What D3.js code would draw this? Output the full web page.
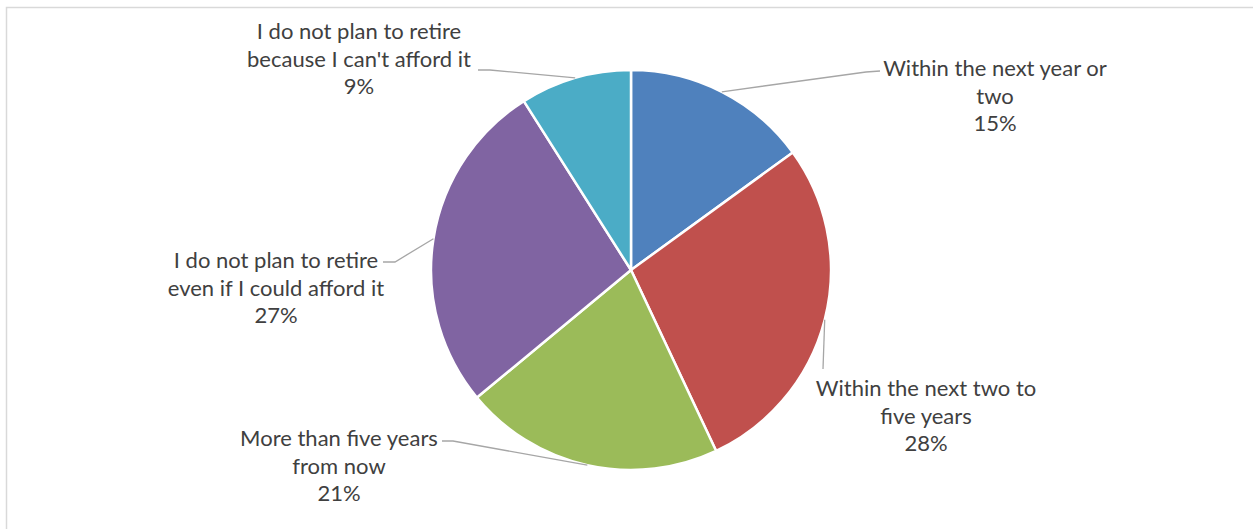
<!DOCTYPE html>
<html>
<head>
<meta charset="utf-8">
<script src="https://cdn.jsdelivr.net/npm/d3@7"></script>
<style>
  html, body { margin: 0; padding: 0; background: #fff; }
  svg { display: block; }
</style>
</head>
<body>
<svg id="chart" width="1253" height="529"></svg>
<script>
// Retirement plans survey: share of respondents per answer
const categories = [
  ["Within the next year or", "two"],
  ["Within the next two to", "five years"],
  ["More than five years", "from now"],
  ["I do not plan to retire", "even if I could afford it"],
  ["I do not plan to retire", "because I can't afford it"]
];
const values = [15, 28, 21, 27, 9];
const valueLabels = ["15%", "28%", "21%", "27%", "9%"];
const colors = ["#4F81BD", "#C0504D", "#9BBB59", "#8064A2", "#4BACC6"];

// Label block centres (x, y of first line) and where each leader line meets the text
const labelLayout = [
  { x: 995, y: 67, elbow: [[880, 71], [866, 72]] },
  { x: 926, y: 387, elbow: [[823, 369]] },
  { x: 339, y: 437, elbow: [[442, 441], [453, 441]] },
  { x: 276, y: 259, elbow: [[383, 262], [395, 262]] },
  { x: 359, y: 30, elbow: [[478, 70], [490, 70]] }
];

const svg = d3.select("#chart");
const W = 1253, H = 529;

// chart area frame
svg.append("rect")
  .attr("x", 6.5).attr("y", 7.5)
  .attr("width", W + 10).attr("height", H + 10)
  .attr("fill", "#fff")
  .attr("stroke", "#d9d9d9")
  .attr("stroke-width", 1.5);

const cx = 631, cy = 270, r = 200;
const g = svg.append("g").attr("transform", `translate(${cx},${cy})`);

const pie = d3.pie().sort(null).value(d => d)(values);
const arc = d3.arc().innerRadius(0).outerRadius(r);

g.selectAll("path.slice")
  .data(pie)
  .join("path")
  .attr("class", "slice")
  .attr("d", arc)
  .attr("fill", (d, i) => colors[i])
  .attr("stroke", "#fff")
  .attr("stroke-width", 2.5)
  .attr("stroke-linejoin", "round");

// leader lines from the slice edge at its mid-angle to the label
const leader = d3.line();
pie.forEach((d, i) => {
  const a = (d.startAngle + d.endAngle) / 2;
  const edge = [cx + r * Math.sin(a), cy - r * Math.cos(a)];
  const pts = labelLayout[i].elbow.slice().reverse();
  pts.unshift(edge);
  svg.append("path")
    .attr("d", leader(pts))
    .attr("fill", "none")
    .attr("stroke", "#a6a6a6")
    .attr("stroke-width", 1.3);
});

// fit label font so a reference line spans its measured width
const fontFamily = "Lato, 'Open Sans', sans-serif";
const probe = svg.append("text").attr("font-family", fontFamily).attr("font-size", 100)
  .text("I do not plan to retire");
const probeW = probe.node().getComputedTextLength();
probe.remove();
const fontSize = Math.min(22, 100 * 208 / probeW);
const lineGap = 27.5;

categories.forEach((lines, i) => {
  const L = labelLayout[i];
  const t = svg.append("text")
    .attr("font-family", fontFamily)
    .attr("font-size", fontSize)
    .attr("fill", "#404040")
    .attr("text-anchor", "middle")
    .attr("dominant-baseline", "central");
  lines.concat([valueLabels[i]]).forEach((s, k) => {
    t.append("tspan").attr("x", L.x).attr("y", L.y + k * lineGap).text(s);
  });
});
</script>
</body>
</html>
